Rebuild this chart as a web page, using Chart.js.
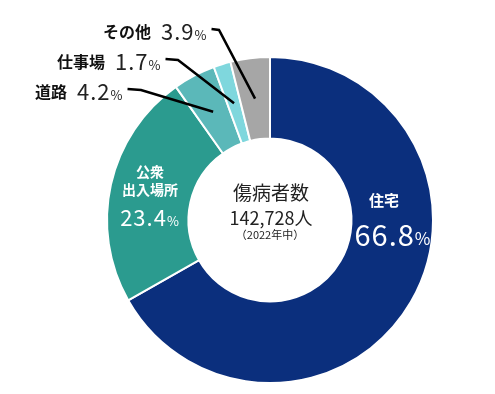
<!DOCTYPE html>
<html>
<head>
<meta charset="utf-8">
<script src="https://cdn.jsdelivr.net/npm/chart.js@4"></script>
<style>
  html, body { margin: 0; padding: 0; background: #fff; }
  #wrap { width: 495px; height: 394px; }
</style>
</head>
<body>
<div id="wrap"><canvas id="pieChart" width="495" height="394"></canvas></div>
<script>
// data
const categories = ["住宅", "公衆出入場所", "道路", "仕事場", "その他"];
const shares = [66.8, 23.4, 4.2, 1.7, 3.9];
const sliceColors = ["#0b2f7d", "#2b9b8f", "#5bb8b9", "#7fd7dd", "#a6a6a6"];
const totalText = ["傷病者数", "142,728人", "（2022年中）"];

const FONT = "'Noto Sans CJK JP', 'Noto Sans', sans-serif";

function pct(v) { return v.toFixed(1); }

// draw "value" + small "%" , returns end x
function drawValue(ctx, val, x, y, size, color, align) {
    ctx.fillStyle = color;
    ctx.textBaseline = "middle";
    ctx.letterSpacing = "1px";
    ctx.font = size + "px " + FONT;
    const numW = ctx.measureText(val).width;
    ctx.font = Math.round(size * 0.6) + "px " + FONT;
    const pW = ctx.measureText("%").width;
    let x0 = x;
    if (align === "center") x0 = x - (numW + pW) / 2;
    ctx.textAlign = "left";
    ctx.font = size + "px " + FONT;
    ctx.fillText(val, x0, y);
    ctx.font = Math.round(size * 0.6) + "px " + FONT;
    ctx.fillText("%", x0 + numW, y + size * 0.12);
    ctx.letterSpacing = "0px";
    return x0 + numW + pW;
}

/** labels inside and outside the ring **/
const labelPlugin = {
    id: "labels",
    afterDatasetsDraw(chart) {
        const ctx = chart.ctx;
        const arcs = chart.getDatasetMeta(0).data;
        const cx = arcs[0].x, cy = arcs[0].y;
        ctx.save();

        // center text
        ctx.fillStyle = "#222";
        ctx.textAlign = "center";
        ctx.textBaseline = "middle";
        ctx.font = "19px " + FONT;
        ctx.fillText(totalText[0], cx + 1, cy - 27);
        ctx.font = "18px " + FONT;
        ctx.fillText(totalText[1], cx + 1, cy - 2);
        ctx.font = "11px " + FONT;
        ctx.fillText(totalText[2], cx, cy + 15);

        // 住宅
        ctx.fillStyle = "#fff";
        ctx.font = "bold 15px " + FONT;
        ctx.fillText(categories[0], 384, 200);
        drawValue(ctx, pct(shares[0]), 393, 235, 29, "#fff", "center");

        // 公衆出入場所
        ctx.fillStyle = "#fff";
        ctx.textAlign = "center";
        ctx.font = "bold 14px " + FONT;
        ctx.fillText("公衆", 150, 172);
        ctx.fillText("出入場所", 150, 190);
        drawValue(ctx, pct(shares[1]), 150, 218, 22, "#fff", "center");

        // outside labels with leader lines
        const outside = [
            { i: 4, x: 103, y: 32, turn: 219 },
            { i: 3, x: 57, y: 62, turn: 178 },
            { i: 2, x: 35, y: 92, turn: 141 }
        ];
        outside.forEach(o => {
            ctx.fillStyle = "#111";
            ctx.textAlign = "left";
            ctx.textBaseline = "middle";
            ctx.font = "bold 16px " + FONT;
            ctx.fillText(categories[o.i], o.x, o.y);
            const w = ctx.measureText(categories[o.i]).width;
            const end = drawValue(ctx, pct(shares[o.i]), o.x + w + 10, o.y, 22, "#222", "left");
            const p = arcs[o.i].tooltipPosition();
            ctx.strokeStyle = "#000";
            ctx.lineWidth = 2.5;
            ctx.beginPath();
            ctx.moveTo(end + 4, o.y - 3);
            ctx.lineTo(o.turn, o.y - 2);
            ctx.lineTo(p.x, p.y);
            ctx.stroke();
        });
        ctx.restore();
    }
};

new Chart(document.getElementById("pieChart").getContext("2d"), {
    type: "doughnut",
    data: {
        labels: categories,
        datasets: [{
            data: shares,
            backgroundColor: sliceColors,
            borderColor: "#fff",
            borderWidth: 2
        }]
    },
    options: {
        responsive: false,
        animation: false,
        cutout: "50%",
        layout: { padding: { left: 106, right: 61, top: 56, bottom: 10 } },
        plugins: {
            legend: { display: false },
            tooltip: { enabled: false }
        }
    },
    plugins: [labelPlugin]
});
</script>
</body>
</html>
